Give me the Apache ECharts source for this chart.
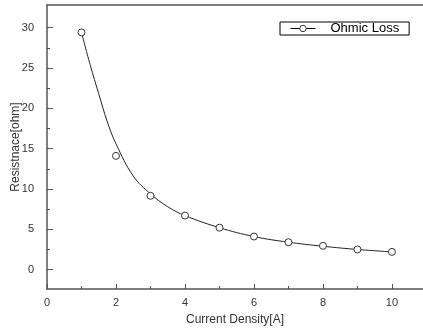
<!DOCTYPE html>
<html>
<head>
<meta charset="utf-8">
<script src="https://cdn.jsdelivr.net/npm/echarts@6/dist/echarts.min.js"></script>
<style>
  html, body { margin: 0; padding: 0; background: #fff; }
  #chart { width: 423px; height: 330px; }
</style>
</head>
<body>
<div id="chart"></div>
<script>
// measured points
const currentX = [1, 2, 3, 4, 5, 6, 7, 8, 9, 10]
const ohmicLoss = [29.4, 14.1, 9.15, 6.7, 5.2, 4.1, 3.4, 2.95, 2.5, 2.2]

// fitted curve
const fitX = [1, 1.25, 1.5, 1.75, 2, 2.5, 3, 3.5, 4, 5, 6, 7, 8, 9, 10]
const fitY = [29.4, 25.4, 21.8, 18.3, 15.6, 11.6, 9.4, 7.8, 6.7, 5.2, 4.1, 3.4, 2.9, 2.5, 2.2]

const yMajor = [0, 5, 10, 15, 20, 25, 30]
const yMinor = [2.5, 7.5, 12.5, 17.5, 22.5, 27.5]
const xMajor = [0, 2, 4, 6, 8, 10]

const axisColor = '#555'
const textColor = '#333'
const font = 'Arial, "Liberation Sans", sans-serif'

const chart = echarts.init(document.getElementById('chart'))

chart.setOption({
  animation: false,
  grid: { left: 47, top: 5, right: 0, bottom: 41, outerBoundsMode: 'none', containLabel: false },
  legend: {
    left: 280,
    top: 22,
    data: ['Ohmic Loss'],
    padding: [0, 10, 0, 10],
    itemWidth: 25,
    itemHeight: 8,
    borderColor: '#000',
    borderWidth: 1,
    borderRadius: 0,
    itemStyle: { color: '#fff', borderColor: '#333', borderWidth: 1 },
    lineStyle: { color: '#000', width: 1, opacity: 1 },
    textStyle: { color: '#000', fontSize: 13, fontFamily: font, padding: [0, 0, 0, 10] }
  },
  xAxis: [
    {
      type: 'value',
      min: 0,
      max: 10.9,
      interval: 2,
      name: 'Current Density[A]',
      nameLocation: 'middle',
      nameGap: 25,
      nameMoveOverlap: false,
      nameTextStyle: { color: textColor, fontSize: 12, fontFamily: font },
      axisLine: { onZero: false, lineStyle: { color: axisColor, width: 1.5 } },
      axisTick: { inside: true, length: 5, customValues: xMajor, lineStyle: { color: axisColor } },
      minorTick: { show: true, splitNumber: 2, length: 3, lineStyle: { color: axisColor } },
      axisLabel: { customValues: xMajor, margin: 8, color: textColor, fontSize: 11, fontFamily: font },
      splitLine: { show: false }
    },
    {
      type: 'value',
      position: 'top',
      min: 0,
      max: 10.9,
      axisLine: { show: true, onZero: false, lineStyle: { color: axisColor, width: 1.5 } },
      axisTick: { show: false },
      axisLabel: { show: false },
      splitLine: { show: false }
    }
  ],
  yAxis: [
    {
      type: 'value',
      min: -2.4,
      max: 32.8,
      name: 'Resistnace[ohm]',
      nameLocation: 'middle',
      nameGap: 25,
      nameMoveOverlap: false,
      nameTextStyle: { color: textColor, fontSize: 12, fontFamily: font },
      axisLine: { show: true, onZero: false, lineStyle: { color: axisColor, width: 1.5 } },
      axisTick: { inside: true, length: 6, customValues: yMajor, lineStyle: { color: axisColor } },
      axisLabel: { customValues: yMajor, margin: 13, color: textColor, fontSize: 11, fontFamily: font },
      splitLine: { show: false }
    },
    {
      type: 'value',
      position: 'left',
      min: -2.4,
      max: 32.8,
      axisLine: { show: false, onZero: false },
      axisTick: { show: true, inside: true, length: 3, customValues: yMinor, lineStyle: { color: axisColor } },
      axisLabel: { show: false },
      splitLine: { show: false }
    }
  ],
  series: [
    {
      name: 'fit',
      type: 'line',
      smooth: 0.4,
      symbol: 'none',
      silent: true,
      lineStyle: { color: '#222', width: 1 },
      data: fitX.map((x, i) => [x, fitY[i]]),
      z: 2
    },
    {
      name: 'Ohmic Loss',
      type: 'line',
      symbol: 'circle',
      symbolSize: 7,
      itemStyle: { color: '#fff', borderColor: '#333', borderWidth: 1 },
      lineStyle: { width: 0, opacity: 0 },
      data: currentX.map((x, i) => [x, ohmicLoss[i]]),
      z: 3
    }
  ]
})
</script>
</body>
</html>
